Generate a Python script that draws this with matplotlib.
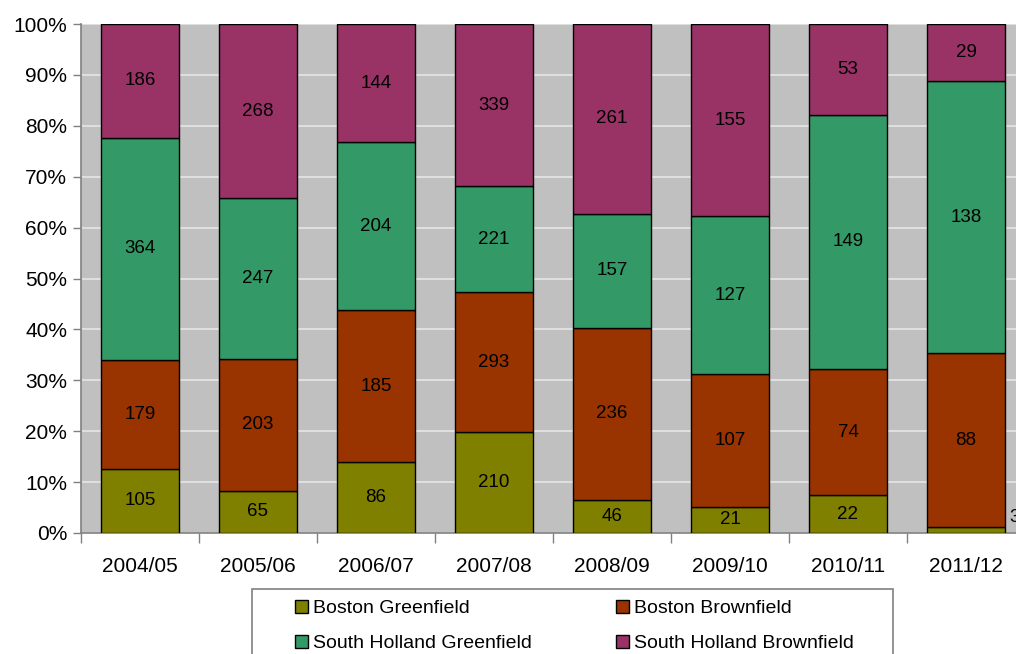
import matplotlib
matplotlib.use("Agg")
import matplotlib.pyplot as plt
from matplotlib.patches import Rectangle
from matplotlib.ticker import FuncFormatter, FixedLocator
import numpy as np

years = ["2004/05", "2005/06", "2006/07", "2007/08", "2008/09", "2009/10", "2010/11", "2011/12"]
boston_green = [105, 65, 86, 210, 46, 21, 22, 3]
boston_brown = [179, 203, 185, 293, 236, 107, 74, 88]
sh_green = [364, 247, 204, 221, 157, 127, 149, 138]
sh_brown = [186, 268, 144, 339, 261, 155, 53, 29]

series = [
    ("Boston Greenfield", boston_green, "#808000"),
    ("Boston Brownfield", boston_brown, "#993300"),
    ("South Holland Greenfield", sh_green, "#339966"),
    ("South Holland Brownfield", sh_brown, "#993366"),
]

plt.rcParams["font.family"] = ["Liberation Sans", "DejaVu Sans"]

W, H = 1016, 654
fig = plt.figure(figsize=(W / 100, H / 100), dpi=100)
ax = fig.add_axes([81 / W, 1 - 533 / H, 944 / W, 509 / H])
ax.set_facecolor("#c0c0c0")

x = np.arange(len(years))
totals = np.sum([s[1] for s in series], axis=0).astype(float)
bottom = np.zeros(len(years))
handles = {}
for name, vals, color in series:
    pct = np.array(vals) / totals * 100
    bars = ax.bar(x, pct, width=0.66, bottom=bottom, color=color,
                  edgecolor="black", linewidth=1.0, label=name, zorder=3)
    handles[name] = bars
    for xi, p, b, v in zip(x, pct, bottom, vals):
        if p >= 3:
            ax.text(xi, b + p / 2, str(v), ha="center", va="center",
                    fontsize=13.5, color="black", zorder=4)
        else:
            ax.text(xi + 0.37, b + p / 2 + 2.5, str(v), ha="left", va="center",
                    fontsize=13.5, color="black", zorder=4, clip_on=False)
    bottom += pct

ax.set_xlim(-0.5, len(years) - 0.5)
ax.set_ylim(0, 100)
ax.yaxis.set_major_locator(FixedLocator(np.arange(0, 101, 10)))
ax.yaxis.set_major_formatter(FuncFormatter(lambda v, _: f"{v:.0f}%"))
ax.grid(axis="y", color="#e6e6e6", linewidth=1.2, zorder=1)
ax.set_axisbelow(True)

ax.set_xticks(x)
ax.set_xticklabels(years, fontsize=15)
ax.tick_params(axis="x", length=0, pad=17)
ax.set_xticks(np.arange(-0.5, len(years), 1), minor=True)
ax.tick_params(axis="x", which="minor", length=7, color="#808080", width=1)
ax.tick_params(axis="y", labelsize=15, length=6, color="#808080", width=1, pad=4)

for side in ("top", "right"):
    ax.spines[side].set_visible(False)
for side in ("left", "bottom"):
    ax.spines[side].set_color("#808080")
    ax.spines[side].set_linewidth(1.2)

# legend box below the chart, two columns: Greenfield / Brownfield pairs per row
fig.patches.append(Rectangle((252 / W, 1 - 700 / H), 641 / W, 111 / H,
                             transform=fig.transFigure, facecolor="white",
                             edgecolor="#808080", linewidth=1.2, zorder=0))

columns = [(295, ["Boston Greenfield", "South Holland Greenfield"]),
           (616, ["Boston Brownfield", "South Holland Brownfield"])]
for x0, names in columns:
    fig.legend(handles=[handles[n] for n in names], labels=names,
               loc="upper left", bbox_to_anchor=(x0 / W, 1 - 600 / H),
               fontsize=14, frameon=False, handlelength=0.65,
               handleheight=0.65, handletextpad=0.28, labelspacing=0.9,
               borderpad=0, borderaxespad=0)

fig.savefig("out.png", dpi=100)
